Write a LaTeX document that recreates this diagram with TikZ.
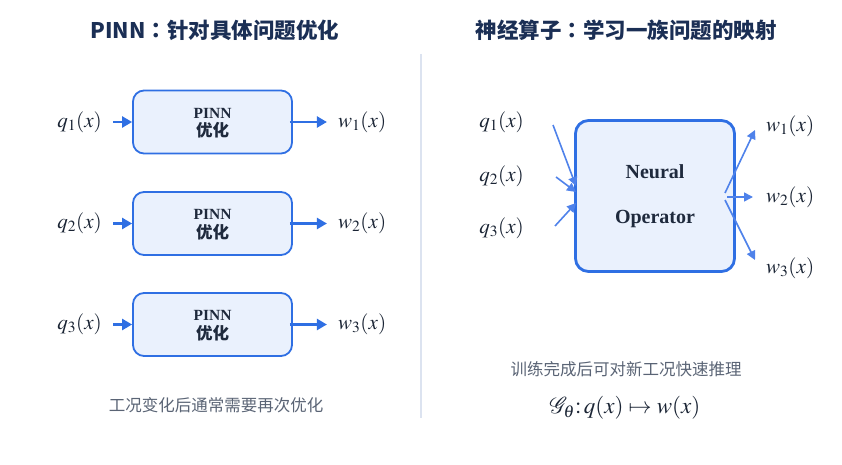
\documentclass[tikz,border=0pt]{standalone}
\usepackage{mathptmx}
\usepackage{fontspec}
\setmainfont{Liberation Serif}
\newfontfamily\cjk{Noto Sans CJK SC}
\newfontfamily\cjktc{Noto Sans CJK TC}
\usetikzlibrary{arrows.meta}
\definecolor{navy}{HTML}{1B2F55}
\definecolor{boxblue}{HTML}{2F6FE3}
\definecolor{boxfill}{HTML}{EAF1FD}
\definecolor{arrowblue}{HTML}{2F6FE3}
\definecolor{thinblue}{HTML}{4F82EA}
\definecolor{greytext}{HTML}{5A6475}
\definecolor{divider}{HTML}{DCE3F0}
\definecolor{darktext}{HTML}{1F2A3D}
\tikzset{
  pinnbox/.style={draw=boxblue, fill=boxfill, line width=1.8pt, rounded corners=11pt, minimum width=159pt, minimum height=63pt, inner sep=0pt},
  opbox/.style={draw=boxblue, fill=boxfill, line width=2.8pt, rounded corners=13pt, minimum width=159pt, minimum height=151pt, inner sep=0pt},
  thick arrow/.style={draw=arrowblue, line width=2.4pt, -{Triangle[length=10pt,width=11pt]}},
  thin arrow/.style={draw=thinblue, line width=1.6pt, -{Triangle[length=9pt,width=9pt]}},
  mathlbl/.style={font=\fontsize{21}{24}\selectfont, text=darktext!85!black, inner sep=0pt},
  titlelbl/.style={font=\cjk\bfseries\fontsize{21.5}{24}\selectfont, text=navy},
  notelbl/.style={font=\cjk\fontsize{16.5}{18}\selectfont, text=greytext},
  pinnlbl/.style={font=\bfseries\fontsize{15.5}{16}\selectfont, text=darktext, inner sep=0pt},
  youhua/.style={font=\cjk\bfseries\fontsize{16.5}{18}\selectfont, text=darktext, inner sep=0pt}
}
\begin{document}
\begin{tikzpicture}[x=1pt,y=-1pt]
\useasboundingbox (0,0) rectangle (842,465);
% titles
\node[titlelbl] (t1) at (215,30) {PINN{\cjktc\bfseries ：}针对具体问题优化};
\node[titlelbl] (t2) at (626,30) {神经算子{\cjktc\bfseries ：}学习一族问题的映射};
% divider
\draw[divider, line width=1.6pt] (421,54) coordinate (d1) -- (421,418) coordinate (d2);
% left PINN boxes
\foreach \i/\y in {1/122,2/223.5,3/324.5}{
  \node[pinnbox] (p\i) at (212.5,\y) {};
  \node[pinnlbl] (pl\i) at (212.5,\y-9) {PINN};
  \node[youhua] (py\i) at (212.5,\y+8.5) {优化};
  \node[mathlbl, anchor=east] (q\i) at (102,\y) {$q_{\i}(x)$};
  \node[mathlbl, anchor=west] (w\i) at (338,\y) {$w_{\i}(x)$};
  \draw[thick arrow] (q\i.east) ++(11,0) -- (p\i.west);
  \draw[thick arrow] (p\i.east) ++(-3,0) -- ++(37,0);
}
\node[notelbl] (n1) at (216,405) {工况变化后通常需要再次优化};
% neural operator
\node[opbox] (op) at (655,196) {};
\node[font=\bfseries\fontsize{20}{24}\selectfont, text=darktext] (opa) at (655,172) {Neural};
\node[font=\bfseries\fontsize{20}{24}\selectfont, text=darktext] (opb) at (655,219) {Operator};
\node[mathlbl, anchor=east] (nq1) at (524,122) {$q_1(x)$};
\node[mathlbl, anchor=east] (nq2) at (524,176) {$q_2(x)$};
\node[mathlbl, anchor=east] (nq3) at (524,228) {$q_3(x)$};
\coordinate (a1) at (553,125);
\coordinate (a2) at (556,177);
\coordinate (a3) at (555,226);
\draw[thin arrow] (a1) -- (576,186);
\draw[thin arrow] (a2) -- (576,192);
\draw[thin arrow] (a3) -- (576,203);
\node[mathlbl, anchor=west] (nw1) at (766,126) {$w_1(x)$};
\node[mathlbl, anchor=west] (nw2) at (766,197) {$w_2(x)$};
\node[mathlbl, anchor=west] (nw3) at (766,268) {$w_3(x)$};
\draw[thin arrow] (725,193) -- (755,130);
\draw[thin arrow] (727,197) -- (753,197);
\draw[thin arrow] (725,200) -- (755,260);
\node[notelbl] (n2) at (626,369) {训练完成后可对新工况快速推理};
\node[mathlbl, font=\fontsize{23}{26}\selectfont] (f) at (625,408) {$\mathcal{G}_\theta\colon q(x)\mapsto w(x)$};
\end{tikzpicture}
\end{document}
